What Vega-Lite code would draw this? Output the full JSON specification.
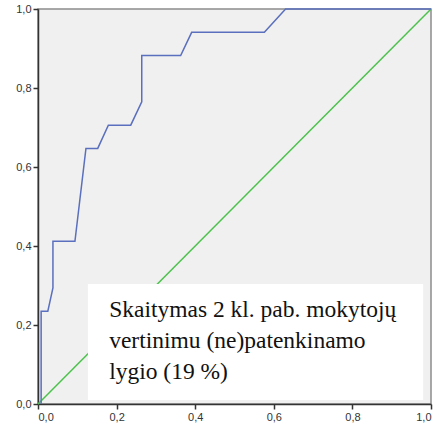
{
  "$schema": "https://vega.github.io/schema/vega-lite/v6.json",
  "autosize": {"type": "none"},
  "padding": {"left": 38, "top": 9, "right": 14, "bottom": 22},
  "width": 393,
  "height": 395,
  "background": "white",
  "config": {
    "view": {"fill": "#f0f0f0", "stroke": "#8c8c8c", "strokeWidth": 1.5},
    "axis": {
      "grid": false,
      "domainColor": "#333333",
      "domainWidth": 1.5,
      "tickColor": "#333333",
      "tickWidth": 1.5,
      "tickSize": 5,
      "labelFont": "Liberation Sans",
      "labelFontSize": 11,
      "labelColor": "#333333",
      "labelPadding": 2,
      "title": null
    }
  },
  "datasets": {
    "roc": [
      {"fpr": 0.008, "tpr": 0.0},
      {"fpr": 0.008, "tpr": 0.235},
      {"fpr": 0.025, "tpr": 0.235},
      {"fpr": 0.038, "tpr": 0.294},
      {"fpr": 0.038, "tpr": 0.412},
      {"fpr": 0.094, "tpr": 0.412},
      {"fpr": 0.122, "tpr": 0.647},
      {"fpr": 0.152, "tpr": 0.647},
      {"fpr": 0.179, "tpr": 0.706},
      {"fpr": 0.236, "tpr": 0.706},
      {"fpr": 0.264, "tpr": 0.765},
      {"fpr": 0.264, "tpr": 0.882},
      {"fpr": 0.363, "tpr": 0.882},
      {"fpr": 0.391, "tpr": 0.941},
      {"fpr": 0.576, "tpr": 0.941},
      {"fpr": 0.63, "tpr": 1.0},
      {"fpr": 1.0, "tpr": 1.0}
    ],
    "ref": [
      {"fpr": 0.0, "tpr": 0.0},
      {"fpr": 1.0, "tpr": 1.0}
    ]
  },
  "layer": [
    {
      "data": {"name": "ref"},
      "mark": {"type": "line", "color": "#4cc24c", "strokeWidth": 1.5},
      "encoding": {
        "x": {"field": "fpr", "type": "quantitative", "scale": {"domain": [0, 1], "nice": false},
          "axis": {"values": [0, 0.2, 0.4, 0.6, 0.8, 1.0], "labelExpr": "replace(format(datum.value, '.1f'), '.', ',')"}},
        "y": {"field": "tpr", "type": "quantitative", "scale": {"domain": [0, 1], "nice": false},
          "axis": {"values": [0, 0.2, 0.4, 0.6, 0.8, 1.0], "labelExpr": "replace(format(datum.value, '.1f'), '.', ',')"}}
      }
    },
    {
      "data": {"name": "roc"},
      "mark": {"type": "line", "color": "#5a6fbd", "strokeWidth": 1.5},
      "encoding": {
        "x": {"field": "fpr", "type": "quantitative"},
        "y": {"field": "tpr", "type": "quantitative"},
        "order": {"field": "none"}
      }
    },
    {
      "data": {"values": [{"label": "box"}]},
      "mark": {"type": "rect", "fill": "white", "stroke": null},
      "encoding": {
        "x": {"datum": 0.127, "type": "quantitative"},
        "x2": {"datum": 0.98},
        "y": {"datum": 0.304, "type": "quantitative"},
        "y2": {"datum": 0.01}
      }
    },
    {
      "data": {"values": [{"label": ["Skaitymas 2 kl. pab. mokytojų", "vertinimu (ne)patenkinamo", "lygio (19 %)"]}]},
      "mark": {"type": "text", "align": "left", "baseline": "alphabetic", "font": "Liberation Serif, Times New Roman, serif", "fontSize": 23.5, "lineHeight": 31, "color": "#111111"},
      "encoding": {
        "x": {"datum": 0.181, "type": "quantitative"},
        "y": {"datum": 0.221, "type": "quantitative"},
        "text": {"field": "label"}
      }
    }
  ]
}
